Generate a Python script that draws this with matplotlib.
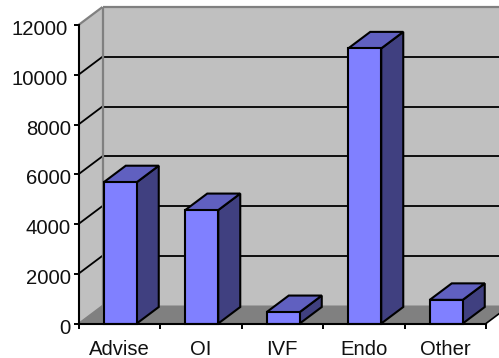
import matplotlib
matplotlib.use("Agg")
import matplotlib.pyplot as plt
from matplotlib.patches import Polygon
from matplotlib.transforms import ScaledTranslation

categories = ["Advise", "OI", "IVF", "Endo", "Other"]
values = [5680, 4560, 460, 11060, 950]
y_ticks = [0, 2000, 4000, 6000, 8000, 10000, 12000]

W, H = 499, 358
LEFT, RIGHT, BOTTOM, TOP = 78.5, 486, 323.5, 25

plt.rcParams["font.family"] = ["Liberation Sans", "DejaVu Sans"]
fig = plt.figure(figsize=(W / 100, H / 100), dpi=100, facecolor="white")
ax = fig.add_axes([LEFT / W, 1 - BOTTOM / H, (RIGHT - LEFT) / W, (BOTTOM - TOP) / H])
ax.set_xlim(0, len(categories))
ax.set_ylim(0, 12000)
ax.patch.set_visible(False)

# pixel-to-data scale factors for the oblique depth offsets
px_x = len(categories) / (RIGHT - LEFT)
px_y = 12000 / (BOTTOM - TOP)
wall_dx, wall_dy = 24 * px_x, 18 * px_y
bar_dx, bar_dy = 22 * px_x, 16.5 * px_y
bar_w = 33 * px_x
n = len(categories)
ymax = y_ticks[-1]


def poly(points, face, edge="none", lw=0.0, z=1):
    ax.add_patch(Polygon(points, closed=True, facecolor=face, edgecolor=edge,
                         linewidth=lw, zorder=z, clip_on=False, joinstyle="miter"))


def line(xs, ys, color="black", lw=1.3, z=2):
    ax.plot(xs, ys, color=color, lw=lw, zorder=z, clip_on=False,
            solid_capstyle="butt")


# back wall, side wall and floor
poly([(wall_dx, wall_dy), (n + wall_dx, wall_dy), (n + wall_dx, ymax + wall_dy),
      (wall_dx, ymax + wall_dy)], "#C0C0C0")
poly([(0, 0), (wall_dx, wall_dy), (wall_dx, ymax + wall_dy), (0, ymax)], "#C0C0C0")
poly([(0, 0), (n, 0), (n + wall_dx, wall_dy), (wall_dx, wall_dy)], "#808080")

# wall gridlines
for t in y_ticks[1:-1]:
    line([0, wall_dx], [t, t + wall_dy])
    line([wall_dx, n + wall_dx], [t + wall_dy, t + wall_dy])

# wall outline
line([0, wall_dx], [ymax, ymax + wall_dy], "#808080", 1.6)
line([wall_dx, n + wall_dx], [ymax + wall_dy, ymax + wall_dy], "#808080", 1.6)
line([wall_dx, wall_dx], [wall_dy, ymax + wall_dy], "#808080", 1.6)
line([0, wall_dx], [0, wall_dy], "#808080", 1.0)
line([n, n + wall_dx], [0, wall_dy], "black", 1.2)

# oblique columns
for i, v in enumerate(values):
    x0 = i + 0.5 - bar_w / 2 + 1 * px_x
    x1 = x0 + bar_w
    poly([(x1, 0), (x1 + bar_dx, bar_dy), (x1 + bar_dx, v + bar_dy), (x1, v)],
         "#404080", "black", 1.5, 3)
    poly([(x0, v), (x1, v), (x1 + bar_dx, v + bar_dy), (x0 + bar_dx, v + bar_dy)],
         "#6060C0", "black", 1.5, 3)
    poly([(x0, 0), (x1, 0), (x1, v), (x0, v)], "#8080FF", "black", 1.5, 4)

# axes
for name in ("top", "right"):
    ax.spines[name].set_visible(False)
for name in ("left", "bottom"):
    ax.spines[name].set_linewidth(1.5)
    ax.spines[name].set_zorder(5)

ax.set_yticks(y_ticks)
ax.set_xticks(range(n + 1))
ax.set_xticklabels([])
ax.set_xticks([i + 0.5 for i in range(n)], minor=True)
ax.set_xticklabels(categories, minor=True, fontsize=14.6, color="#111111")
ax.tick_params(axis="y", length=3.6, width=1.4, pad=2, labelsize=14.6, labelcolor="#111111")
ax.tick_params(axis="x", which="major", length=3.6, width=1.4)
ax.tick_params(axis="x", which="minor", length=0, pad=12)

# nudge the value labels down, with the five-digit ones further out
for t, lab in zip(y_ticks, ax.get_yticklabels()):
    shift_x = -2.5 if t >= 10000 else 0
    lab.set_transform(lab.get_transform()
                      + ScaledTranslation(shift_x / 100, -2.5 / 100, fig.dpi_scale_trans))

fig.savefig("out.png", dpi=100, facecolor="white")
